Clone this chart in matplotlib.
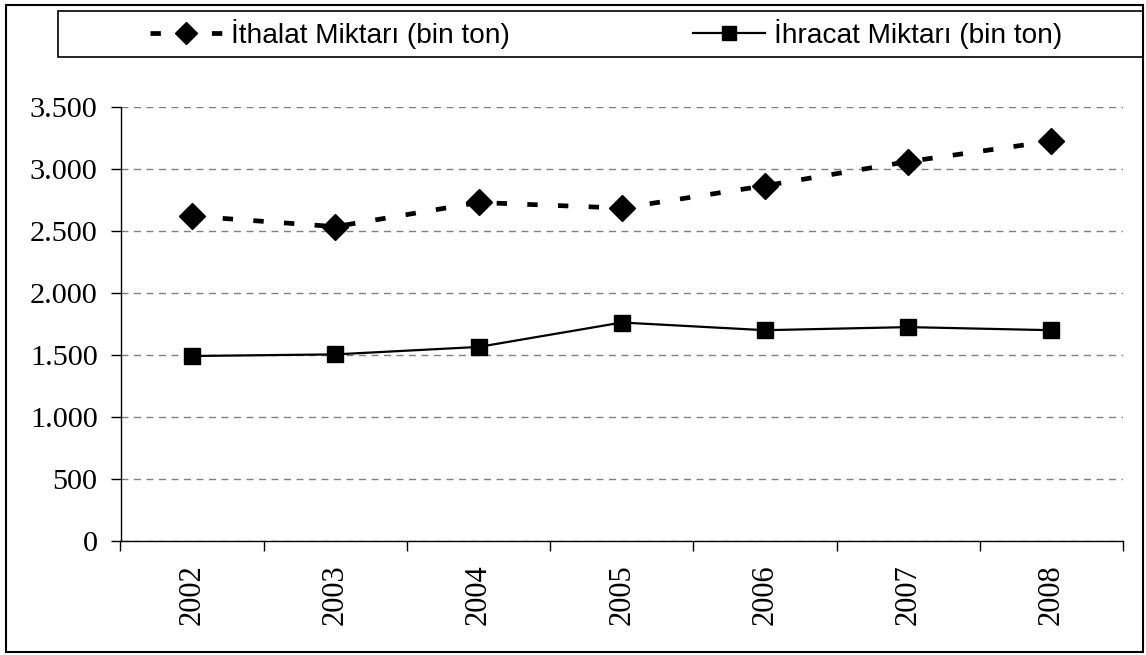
import matplotlib
matplotlib.use('Agg')
import numpy as np
from matplotlib import pyplot as plt
from matplotlib.patches import Rectangle

# Data
years = ['2002', '2003', '2004', '2005', '2006', '2007', '2008']
ithalat = [2620, 2535, 2730, 2685, 2865, 3060, 3225]
ihracat = [1492, 1505, 1565, 1762, 1700, 1725, 1700]
ithalat_label = 'İthalat Miktarı (bin ton)'
ihracat_label = 'İhracat Miktarı (bin ton)'

W, H = 1146, 655
fig = plt.figure(figsize=(W / 100, H / 100), dpi=100)

# Plot area in pixel terms of the reference
x0, x1, y0, y1 = 120.5, 1123, 541, 107
ax = fig.add_axes([x0 / W, 1 - y0 / H, (x1 - x0) / W, (y0 - y1) / H])

x = np.arange(len(years))
l1, = ax.plot(x, ithalat, color='black', lw=3.4, marker='D', ms=13,
              dashes=(2.2, 4.3), dash_capstyle='butt')
l2, = ax.plot(x, ihracat, color='black', lw=1.6, marker='s', ms=11)

ax.set_xlim(-0.5, len(years) - 0.5)
ax.set_ylim(0, 3500)
ax.set_yticks(np.arange(0, 3501, 500))
ax.set_yticklabels([f'{v:,}'.replace(',', '.') for v in range(0, 3501, 500)],
                   family='Liberation Serif', fontsize=21.8)
ax.set_xticks(np.arange(-0.5, len(years), 1.0))
ax.set_xticklabels([])
ax.set_xticks(x, minor=True)
ax.set_xticklabels(years, minor=True, rotation=90, family='Liberation Serif', fontsize=22)
ax.tick_params(axis='x', which='major', length=7, width=1)
ax.tick_params(axis='x', which='minor', length=0, pad=17)
ax.tick_params(axis='y', length=7, width=1, pad=9.5)

ax.grid(axis='y', color='#808080', linestyle=(0, (5, 4)), lw=1)
ax.set_axisbelow(True)
for s in ['top', 'right']:
    ax.spines[s].set_visible(False)
for s in ['left', 'bottom']:
    ax.spines[s].set_linewidth(1)

# Outer frame and legend frame
fig.patches.append(Rectangle((6 / W, 1 - 652 / H), (1143 - 6) / W, (652 - 5) / H,
                             transform=fig.transFigure, fill=False, lw=1.5, ec='black'))
fig.patches.append(Rectangle((58 / W, 1 - 57 / H), (1143 - 58) / W, (57 - 11) / H,
                             transform=fig.transFigure, fill=False, lw=1.2, ec='black'))

fig.legend([l1, l2], [ithalat_label, ihracat_label], ncol=2, frameon=False,
           loc='center', bbox_to_anchor=(606 / W, 1 - 34 / H),
           prop={'family': 'Liberation Sans', 'size': 20.2},
           handlelength=2.57, handletextpad=0.3, columnspacing=6.55, markerscale=0.9)

fig.savefig('out.png', dpi=100)
